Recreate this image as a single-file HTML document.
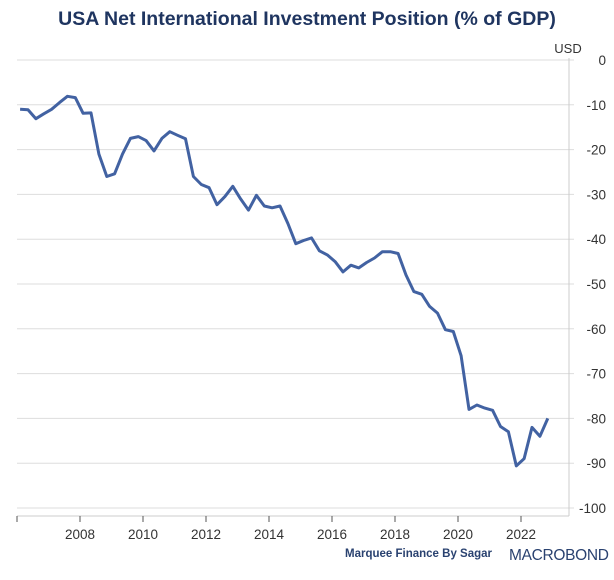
<!DOCTYPE html>
<html><head><meta charset="utf-8"><style>
body{margin:0;background:#fff;width:614px;height:575px;overflow:hidden;font-family:"Liberation Sans",Arial,sans-serif}
</style></head><body>
<svg width="614" height="575" xmlns="http://www.w3.org/2000/svg">
<text x="307" y="25" text-anchor="middle" font-size="19.5" font-weight="bold" fill="#1f3560">USA Net International Investment Position (% of GDP)</text>
<text x="568" y="53" text-anchor="middle" font-size="13" fill="#333">USD</text>
<g id="grid"></g>
<line x1="569" y1="58" x2="569" y2="516" stroke="#ccc"/>
<line x1="17" y1="516" x2="569" y2="516" stroke="#ccc"/>
<g id="xt"></g>
<path id="series" fill="none" stroke="#4262a2" stroke-width="3" stroke-linejoin="round"/>
<text x="492" y="557" text-anchor="end" font-size="11.5" font-weight="bold" fill="#2a4270">Marquee Finance By Sagar</text>
<text x="509" y="560" font-size="15.5" fill="#2a4270" textLength="100">MACROBOND</text>
</svg>
<script>
const yTicks=[0,-10,-20,-30,-40,-50,-60,-70,-80,-90,-100];
const xTicks=[2008,2010,2012,2014,2016,2018,2020,2022];
const startYear=2006.1;
const values=[-11,-11.1,-13.1,-12,-11,-9.5,-8.1,-8.4,-11.9,-11.8,-21,-26,-25.4,-21,-17.5,-17.1,-18,-20.3,-17.5,-16,-16.8,-17.6,-26,-27.8,-28.5,-32.3,-30.5,-28.2,-31,-33.5,-30.2,-32.6,-33,-32.6,-36.5,-41,-40.3,-39.7,-42.6,-43.5,-45,-47.3,-45.8,-46.4,-45.2,-44.2,-42.8,-42.8,-43.2,-48,-51.7,-52.3,-55,-56.5,-60.2,-60.6,-66,-78,-77,-77.7,-78.2,-81.8,-83,-90.6,-89,-82,-84,-80];
const ns="http://www.w3.org/2000/svg";
const X=yr=>80+(yr-2008)*31.5;
const Y=v=>60-v*4.48;
const grid=document.getElementById('grid');
yTicks.forEach(t=>{
 const l=document.createElementNS(ns,'line');
 l.setAttribute('x1',17);l.setAttribute('x2',574);l.setAttribute('y1',Y(t));l.setAttribute('y2',Y(t));
 l.setAttribute('stroke','#ddd');
 
 
 grid.appendChild(l);
 const tx=document.createElementNS(ns,'text');
 tx.setAttribute('x',606);tx.setAttribute('y',Y(t)+5);tx.setAttribute('text-anchor','end');
 tx.setAttribute('font-size','13.5');tx.setAttribute('fill','#333');
 tx.textContent=t;
 
 
 grid.appendChild(tx);
});
const xt=document.getElementById('xt');
const t0=document.createElementNS(ns,'line');
t0.setAttribute('x1',17);t0.setAttribute('x2',17);t0.setAttribute('y1',516);t0.setAttribute('y2',522);t0.setAttribute('stroke','#555');


xt.appendChild(t0);
xTicks.forEach(t=>{
 const l=document.createElementNS(ns,'line');
 l.setAttribute('x1',X(t));l.setAttribute('x2',X(t));l.setAttribute('y1',516);l.setAttribute('y2',522);l.setAttribute('stroke','#555');
 
 
 xt.appendChild(l);
 const tx=document.createElementNS(ns,'text');
 tx.setAttribute('x',X(t));tx.setAttribute('y',539);tx.setAttribute('text-anchor','middle');
 tx.setAttribute('font-size','13.5');tx.setAttribute('fill','#333');
 tx.textContent=t;
 
 
 xt.appendChild(tx);
});
document.getElementById('series').setAttribute('d',values.map((v,i)=>(i?'L':'M')+X(startYear+i*0.25).toFixed(1)+','+Y(v).toFixed(1)).join(''));
</script>
</body></html>
